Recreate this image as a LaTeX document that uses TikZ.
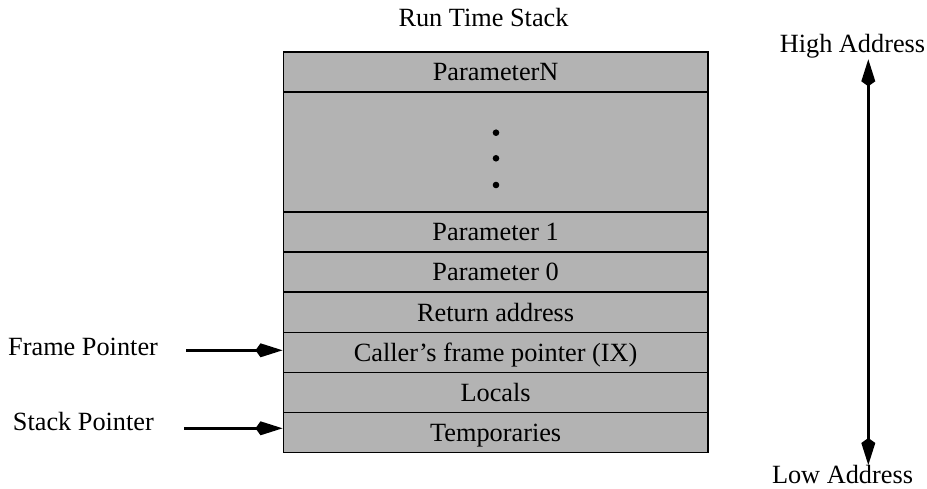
\documentclass[tikz,border=0pt]{standalone}
\usepackage{fontspec}
\setmainfont{Liberation Serif}
\usetikzlibrary{arrows.meta}
\definecolor{cellgray}{RGB}{179,179,179}
\begin{document}
\begin{tikzpicture}[x=1pt,y=-1pt,
  cell/.style={draw=black,line width=1.6pt,fill=cellgray,minimum width=424.7pt,minimum height=40pt,inner sep=0pt,text height=17.4pt,text depth=0pt},
  lbl/.style={inner sep=0pt,font=\fontsize{26.3}{30}\selectfont},
  tipk/.tip={Kite[length=27pt,width=14pt,inset=5pt]},
  ptr/.style={line width=3pt,-tipk},
  every node/.append style={font=\fontsize{26.3}{30}\selectfont}]
\useasboundingbox (0,0) rectangle (927,489);
\node[cell] (pn) at (495.65,72.3) {ParameterN};
\node[cell,minimum height=120pt] (dots) at (495.65,152.3) {};
\node[cell] (p1) at (495.65,232.3) {Parameter 1};
\node[cell] (p0) at (495.65,272.3) {Parameter 0};
\node[cell] (ret) at (495.65,312.3) {Return address};
\node[cell] (caller) at (495.65,352.3) {Caller’s frame pointer (IX)};
\node[cell] (loc) at (495.65,392.3) {Locals};
\node[cell] (tmp) at (495.65,432.3) {Temporaries};
\fill (496,132.7) circle (3.3);
\fill (496,158.3) circle (3.3);
\fill (496,185) circle (3.3);
\node[lbl,anchor=base] (title) at (483.5,27) {Run Time Stack};
\node[lbl,anchor=base west] (fp) at (8,355) {Frame Pointer};
\node[lbl,anchor=base west] (sp) at (12.7,430) {Stack Pointer};
\node[lbl,anchor=base] (high) at (852.5,52.7) {High Address};
\node[lbl,anchor=base] (low) at (842.5,483) {Low Address};
\coordinate (fpstart) at (186,350.3);
\coordinate (spstart) at (184,428.3);
\coordinate (hightip) at (868.3,59.3);
\coordinate (lowtip) at (868.3,465);
\draw[ptr] (fpstart) -- (caller.west |- fpstart);
\draw[ptr] (spstart) -- (tmp.west |- spstart);
\draw[line width=3pt,tipk-tipk] (lowtip) -- (hightip);
\end{tikzpicture}
\end{document}
